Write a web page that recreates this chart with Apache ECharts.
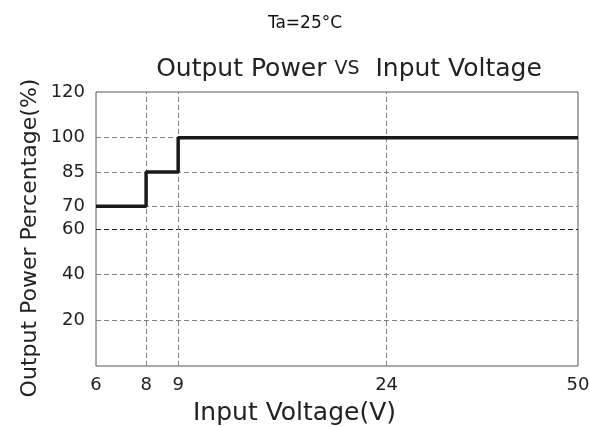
<!doctype html>
<html lang="en">
    <head>
        <meta charset="UTF-8">
        <title>Output Power VS Input Voltage</title>
        <script src="https://cdn.jsdelivr.net/npm/echarts@6/dist/echarts.min.js"></script>
        <style>
            html, body { margin: 0; padding: 0; background: #fff; }
            #main { width: 590px; height: 427px; }
        </style>
    </head>
    <body>
        <div id="main"></div>
        <script type="text/javascript">
            // data
            var voltBreaks = [6, 8, 9, 50];        // input voltage (V) where the power level changes
            var powerPct = [70, 85, 100, 100];     // output power (%) from that voltage on
            var xTicks = [6, 8, 9, 24, 50];        // x tick labels (V)
            var yTicks = [20, 40, 60, 70, 85, 100, 120];
            var yGrid = [20, 40, 60, 70, 85, 100];
            var xGrid = [8, 9, 24];

            // the x axis of the original is not linear: width of each tick slot
            var xGap = [50, 32, 208, 191];
            function warp(v) {
                var pos = 0;
                for (var i = 0; i < xGap.length; i++) {
                    if (v <= xTicks[i + 1]) {
                        return pos + (v - xTicks[i]) / (xTicks[i + 1] - xTicks[i]) * xGap[i];
                    }
                    pos += xGap[i];
                }
                return pos;
            }
            var xMax = warp(xTicks[xTicks.length - 1]);
            var xTickPos = xTicks.map(warp);

            var font = 'DejaVu Sans';
            var dash = [5, 3];

            var gridLines = [];
            yGrid.forEach(function (v) {
                gridLines.push({
                    yAxis: v,
                    lineStyle: { color: v === 60 ? '#222' : '#808080', type: dash, width: 1 }
                });
            });
            xGrid.forEach(function (v) {
                gridLines.push({
                    xAxis: warp(v),
                    lineStyle: { color: '#808080', type: dash, width: 1 }
                });
            });

            var myChart = echarts.init(document.getElementById('main'));

            var option = {
                animation: false,
                title: [
                    {
                        text: 'Ta=25°C',
                        left: 300,
                        top: 10,
                        textAlign: 'center',
                        textStyle: { fontFamily: font, fontSize: 17, fontWeight: 'normal', color: '#111' }
                    },
                    {
                        text: '{a|Output Power }{b|VS}{a|  Input Voltage}',
                        left: 344,
                        top: 52,
                        textAlign: 'center',
                        textStyle: {
                            rich: {
                                a: { fontFamily: font, fontSize: 25, fontWeight: 'normal', color: '#222' },
                                b: { fontFamily: font, fontSize: 19, fontWeight: 'normal', color: '#222' }
                            }
                        }
                    }
                ],
                graphic: [
                    {
                        type: 'text',
                        x: 30,
                        y: 238,
                        rotation: Math.PI / 2,
                        style: {
                            text: 'Output Power Percentage(%)',
                            fontFamily: font,
                            fontSize: 22,
                            fill: '#222',
                            align: 'center',
                            verticalAlign: 'middle'
                        }
                    }
                ],
                grid: {
                    left: 96,
                    right: 12,
                    top: 92,
                    bottom: 61,
                    outerBoundsMode: 'none',
                    show: true,
                    borderColor: '#555',
                    borderWidth: 1
                },
                xAxis: {
                    type: 'value',
                    min: 0,
                    max: xMax,
                    name: 'Input Voltage(V)',
                    nameLocation: 'middle',
                    nameGap: 35,
                    nameTextStyle: { fontFamily: font, fontSize: 25, color: '#222', padding: [0, 85, 0, 0] },
                    axisLine: { show: false },
                    axisTick: { show: false },
                    splitLine: { show: false },
                    axisLabel: {
                        customValues: xTickPos,
                        margin: 10,
                        fontFamily: font,
                        fontSize: 18,
                        color: '#222',
                        formatter: function (val) {
                            for (var i = 0; i < xTickPos.length; i++) {
                                if (Math.abs(xTickPos[i] - val) < 0.01) return String(xTicks[i]);
                            }
                            return '';
                        }
                    }
                },
                yAxis: {
                    type: 'value',
                    min: 0,
                    max: 120,
                    axisLine: { show: false },
                    axisTick: { show: false },
                    splitLine: { show: false },
                    axisLabel: {
                        customValues: yTicks,
                        margin: 11,
                        fontFamily: font,
                        fontSize: 18,
                        color: '#222'
                    }
                },
                series: [
                    {
                        name: 'Output Power',
                        type: 'line',
                        step: 'end',
                        z: 3,
                        symbol: 'none',
                        lineStyle: { color: '#1a1a1a', width: 3.5 },
                        data: voltBreaks.map(function (v, i) { return [warp(v), powerPct[i]]; }),
                        markLine: {
                            z: 1,
                            silent: true,
                            symbol: ['none', 'none'],
                            label: { show: false },
                            data: gridLines
                        }
                    }
                ]
            };

            myChart.setOption(option);
        </script>
    </body>
</html>
